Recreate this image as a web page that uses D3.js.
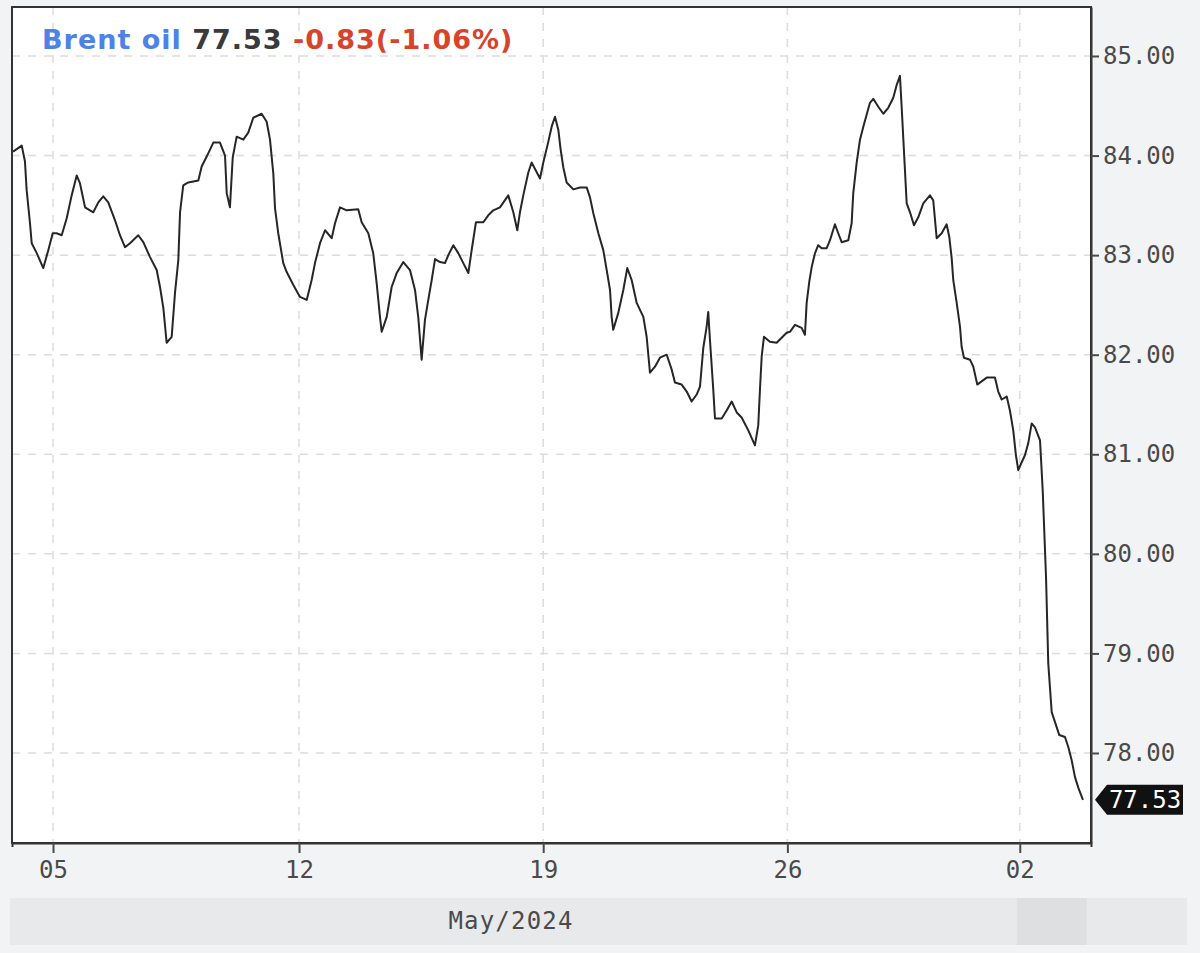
<!DOCTYPE html>
<html><head><meta charset="utf-8">
<script src="https://cdn.jsdelivr.net/npm/d3@7"></script>
<style>
html,body{margin:0;padding:0;background:#f2f3f5;}
svg{display:block;}
</style></head>
<body>
<svg id="chart" width="1200" height="953"></svg>
<script>
// ---- data ----
const seriesName = "Brent oil";
const lastPrice = 77.53;
const change = "-0.83(-1.06%)";
const monthLabel = "May/2024";
const xTickLabels = ["05", "12", "19", "26", "02"];
const xTickPos = [3.83, 26.8, 49.6, 72.4, 94.1];
const yTicks = [78, 79, 80, 81, 82, 83, 84, 85];
const xDomain = [0, 100.75];
const yDomain = [77.096, 85.492];
const times = [
0.1,0.91,1.21,1.37,1.68,1.84,2.31,2.92,3.39,3.8,4.17,4.64,5.11,5.57,6.04,6.35,6.82,7.59,8.06,8.52,8.99,9.62,10.08,10.55,11.02,11.79,12.26,12.89,13.51,13.82,14.13,14.44,14.91,15.22,15.53,15.69,15.99,16.46,17.4,17.71,18.18,18.8,19.42,19.89,20.05,20.35,20.61,20.98,21.6,22.06,22.53,23.31,23.78,24.09,24.4,24.56,24.86,
25.33,25.65,26.27,26.89,27.52,27.98,28.29,28.76,29.23,29.85,30.16,30.63,31.25,32.33,32.65,33.27,33.73,34.05,34.36,34.52,34.99,35.45,35.92,36.54,37.16,37.63,37.94,38.25,38.56,38.87,39.19,39.5,39.96,40.43,40.74,41.21,41.67,42.14,42.61,42.92,43.32,44.01,44.47,44.94,45.56,46.34,46.81,47.18,47.43,47.74,48.21,48.52,49.3,49.61,50.08,50.39,50.7,
51.01,51.23,51.48,51.79,52.41,53.04,53.66,53.97,54.28,54.75,55.21,55.53,55.84,55.99,56.14,56.61,57.08,57.45,57.86,58.33,58.95,59.26,59.57,60.04,60.5,61.13,61.6,61.9,62.53,63.0,63.46,63.93,64.24,64.55,64.86,65.01,65.17,65.48,65.64,66.27,66.73,67.2,67.67,68.13,68.75,69.37,69.68,69.84,70.0,70.21,70.77,71.4,72.33,
72.64,73.11,73.73,74.04,74.2,74.44,74.67,74.98,75.28,75.6,76.07,76.38,76.84,77.15,77.47,78.09,78.4,78.55,78.87,79.18,79.49,79.8,80.11,80.42,80.89,81.36,81.82,82.29,82.61,82.91,83.07,83.38,83.54,83.85,84.22,84.62,85.09,85.71,86.02,86.34,86.81,87.27,87.52,87.74,87.89,88.21,88.52,88.67,88.89,89.45,89.76,90.13,91.01,91.78,92.09,92.41,92.88,93.18,93.49,93.74,93.96,94.28,94.58,94.89,95.21,95.52,95.99,96.24,96.55,96.76,97.08,97.39,97.79,98.32,98.63,98.94,99.25,99.57,100.0
];
const prices = [
84.04,84.10,83.94,83.65,83.32,83.12,83.02,82.87,83.05,83.22,83.22,83.20,83.37,83.60,83.80,83.72,83.48,83.43,83.53,83.59,83.53,83.35,83.20,83.08,83.12,83.20,83.13,82.98,82.85,82.68,82.47,82.12,82.18,82.62,82.95,83.43,83.70,83.73,83.75,83.89,83.99,84.13,84.13,84.00,83.62,83.48,83.98,84.19,84.16,84.23,84.38,84.42,84.34,84.16,83.82,83.47,83.22,
82.92,82.83,82.70,82.58,82.55,82.75,82.92,83.12,83.25,83.17,83.32,83.48,83.45,83.46,83.33,83.22,83.02,82.72,82.38,82.23,82.38,82.68,82.82,82.93,82.85,82.65,82.37,81.95,82.35,82.55,82.75,82.96,82.93,82.92,83.00,83.10,83.02,82.92,82.82,83.05,83.33,83.33,83.40,83.45,83.48,83.60,83.43,83.25,83.43,83.60,83.83,83.93,83.77,83.93,84.14,84.29,84.39,
84.26,84.06,83.88,83.73,83.66,83.68,83.68,83.58,83.42,83.22,83.05,82.85,82.65,82.38,82.25,82.42,82.65,82.87,82.75,82.52,82.38,82.18,81.82,81.88,81.97,82.00,81.85,81.72,81.70,81.63,81.53,81.60,81.68,82.07,82.28,82.43,82.15,81.65,81.36,81.36,81.44,81.53,81.42,81.37,81.24,81.09,81.29,81.65,81.98,82.18,82.13,82.12,82.22,
82.23,82.30,82.27,82.20,82.52,82.73,82.88,83.02,83.10,83.07,83.07,83.15,83.31,83.22,83.13,83.15,83.32,83.62,83.93,84.16,84.29,84.41,84.53,84.57,84.49,84.42,84.48,84.58,84.71,84.80,84.49,83.85,83.52,83.43,83.30,83.38,83.52,83.60,83.55,83.17,83.22,83.31,83.18,82.97,82.75,82.52,82.28,82.08,81.97,81.95,81.88,81.70,81.77,81.77,81.63,81.55,81.58,81.44,81.24,80.99,80.84,80.92,80.99,81.11,81.31,81.27,81.14,80.64,79.77,78.90,78.41,78.31,78.18,78.16,78.06,77.93,77.76,77.65,77.53
];

// ---- layout ----
const svg = d3.select("#chart");
const L = 12, R = 1091, T = 7, B = 843;
const x = d3.scaleLinear().domain(xDomain).range([L, R]);
const y = d3.scaleLinear().domain(yDomain).range([B, T]);
const monoFont = "'DejaVu Sans Mono', monospace";
const axisColor = "#4a4a4a";

svg.append("rect").attr("x", 0).attr("y", 0).attr("width", 1200).attr("height", 953).attr("fill", "#f2f3f5");
svg.append("rect").attr("x", L).attr("y", T).attr("width", R - L).attr("height", B - T).attr("fill", "#ffffff");

// grid
const grid = svg.append("g");
grid.selectAll("line.h").data(yTicks).join("line")
  .attr("x1", L).attr("x2", R).attr("y1", d => y(d)).attr("y2", d => y(d))
  .attr("stroke", "#dcdcdc").attr("stroke-width", 1.5).attr("stroke-dasharray", "8,8");
grid.selectAll("line.v").data(xTickPos).join("line")
  .attr("y1", T).attr("y2", B).attr("x1", d => x(d)).attr("x2", d => x(d))
  .attr("stroke", "#dcdcdc").attr("stroke-width", 1.5).attr("stroke-dasharray", "8,8");

// line
const pts = times.map((t, i) => [t, prices[i]]);
svg.append("path").datum(pts)
  .attr("fill", "none").attr("stroke", "#262626").attr("stroke-width", 2)
  .attr("stroke-linejoin", "round")
  .attr("d", d3.line().x(d => x(d[0])).y(d => y(d[1])));

// frame
svg.append("rect").attr("x", L).attr("y", T).attr("width", R - L).attr("height", B - T)
  .attr("fill", "none").attr("stroke", "#333").attr("stroke-width", 2);

// right axis
const yAxis = d3.axisRight(y).tickValues(yTicks).tickFormat(d3.format(".2f"))
  .tickSizeInner(8).tickSizeOuter(0).tickPadding(4);
const ya = svg.append("g").attr("transform", `translate(${R},0)`).call(yAxis);
ya.select(".domain").attr("stroke", "#333").attr("stroke-width", 2);
ya.selectAll(".tick line").attr("stroke", axisColor).attr("stroke-width", 2);
ya.selectAll(".tick text").attr("fill", axisColor).attr("font-family", monoFont).attr("font-size", 24);

// bottom axis
const xAxis = d3.axisBottom(x).tickValues(xTickPos).tickFormat((d, i) => xTickLabels[i])
  .tickSizeInner(10).tickSizeOuter(4).tickPadding(8);
const xa = svg.append("g").attr("transform", `translate(0,${B})`).call(xAxis);
xa.select(".domain").attr("stroke", "#333").attr("stroke-width", 2);
xa.selectAll(".tick line").attr("stroke", axisColor).attr("stroke-width", 2);
xa.selectAll(".tick text").attr("fill", axisColor).attr("font-family", monoFont).attr("font-size", 24);

// navigator bar
svg.append("rect").attr("x", 10).attr("y", 898).attr("width", 1177).attr("height", 47).attr("fill", "#e8e9eb");
svg.append("rect").attr("x", x(xTickPos[4]) - 3).attr("y", 898).attr("width", 70).attr("height", 47).attr("fill", "#dedfe1");
svg.append("text").attr("x", 511).attr("y", 929).attr("text-anchor", "middle")
  .attr("font-family", monoFont).attr("font-size", 24).attr("letter-spacing", 1.2)
  .attr("fill", axisColor).text(monthLabel);

// last value label
const ly = y(lastPrice);
svg.append("path")
  .attr("d", `M${R + 4},${ly} L${R + 16},${ly - 15} L${R + 92},${ly - 15} L${R + 92},${ly + 15} L${R + 16},${ly + 15} Z`)
  .attr("fill", "#111");
svg.append("text").attr("x", R + 54).attr("y", ly + 8).attr("text-anchor", "middle")
  .attr("font-family", monoFont).attr("font-size", 24).attr("fill", "#fff").text(d3.format(".2f")(lastPrice));

// legend
const lg = svg.append("text").attr("x", 42).attr("y", 49)
  .attr("font-family", "'DejaVu Sans', sans-serif").attr("font-weight", "bold")
  .attr("font-size", 27).attr("letter-spacing", 1.0);
lg.append("tspan").attr("fill", "#4f82e6").text(seriesName + " ");
lg.append("tspan").attr("fill", "#3a3a3a").text(d3.format(".2f")(lastPrice) + " ");
lg.append("tspan").attr("fill", "#d8432b").text(change);
</script>
</body></html>
